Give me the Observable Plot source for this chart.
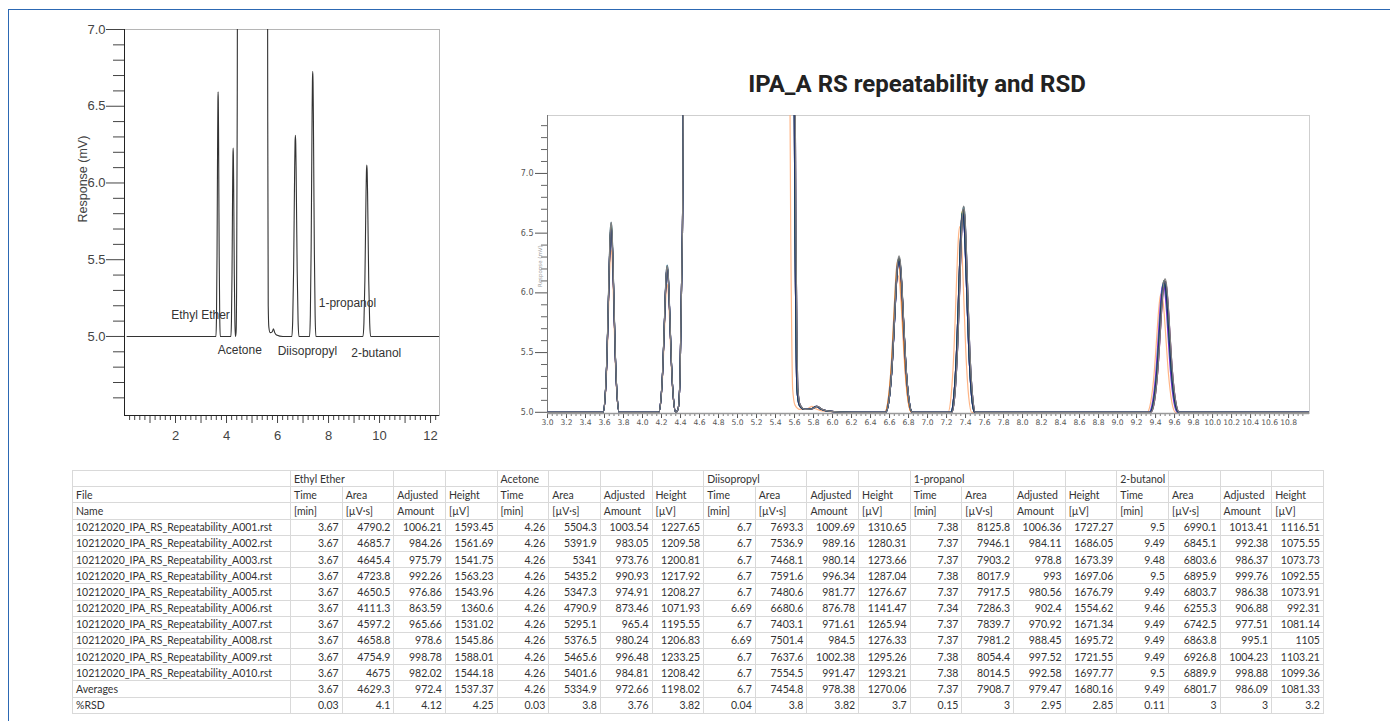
<!DOCTYPE html>
<html><head><meta charset="utf-8">
<script src="https://cdn.jsdelivr.net/npm/d3@7"></script>
<script src="https://cdn.jsdelivr.net/npm/@observablehq/plot@0.6"></script>
<style>
html,body{margin:0;padding:0;background:#fff;}
body{width:1390px;height:721px;overflow:hidden;position:relative;}
#frame{position:absolute;left:8px;top:9px;width:1400px;height:730px;border-left:1.5px solid #2c68b3;border-top:1.5px solid #2c68b3;}
#left{position:absolute;left:0;top:0;}
#right{position:absolute;left:500px;top:100px;}
#title{position:absolute;left:617px;width:600px;top:70px;text-align:center;font-family:Roboto,sans-serif;font-weight:bold;font-size:24px;color:#222;line-height:28px;}
#tbl{position:absolute;left:72px;top:470px;border-collapse:collapse;table-layout:fixed;width:1251px;font-family:Lato,sans-serif;font-size:10.5px;color:#333;}
#tbl tr{height:16.2px;}
#tbl td{border:1px solid #d9d9d9;padding:0 3px;white-space:nowrap;overflow:visible;line-height:14px;}
#tbl td.n{text-align:right;}
</style>
</head><body>
<div id="frame"></div>
<div id="left"></div>
<div id="title">IPA_A RS repeatability and RSD</div>
<div id="right"></div>
<table id="tbl"></table>
<script>
// ---------- data ----------
const fileNames = [
  "10212020_IPA_RS_Repeatability_A001.rst","10212020_IPA_RS_Repeatability_A002.rst",
  "10212020_IPA_RS_Repeatability_A003.rst","10212020_IPA_RS_Repeatability_A004.rst",
  "10212020_IPA_RS_Repeatability_A005.rst","10212020_IPA_RS_Repeatability_A006.rst",
  "10212020_IPA_RS_Repeatability_A007.rst","10212020_IPA_RS_Repeatability_A008.rst",
  "10212020_IPA_RS_Repeatability_A009.rst","10212020_IPA_RS_Repeatability_A010.rst"];
const compounds = ["Ethyl Ether","Acetone","Diisopropyl","1-propanol","2-butanol"];
const headerLine1 = ["Time","Area","Adjusted","Height"];
const headerLine2 = ["[min]","[µV·s]","Amount","[µV]"];

const etherTime   = [3.67,3.67,3.67,3.67,3.67,3.67,3.67,3.67,3.67,3.67];
const etherArea   = [4790.2,4685.7,4645.4,4723.8,4650.5,4111.3,4597.2,4658.8,4754.9,4675];
const etherAdj    = [1006.21,984.26,975.79,992.26,976.86,863.59,965.66,978.6,998.78,982.02];
const etherHeight = [1593.45,1561.69,1541.75,1563.23,1543.96,1360.6,1531.02,1545.86,1588.01,1544.18];
const etherAvg = [3.67,4629.3,972.4,1537.37];
const etherRsd = [0.03,4.1,4.12,4.25];

const acetoneTime   = [4.26,4.26,4.26,4.26,4.26,4.26,4.26,4.26,4.26,4.26];
const acetoneArea   = [5504.3,5391.9,5341,5435.2,5347.3,4790.9,5295.1,5376.5,5465.6,5401.6];
const acetoneAdj    = [1003.54,983.05,973.76,990.93,974.91,873.46,965.4,980.24,996.48,984.81];
const acetoneHeight = [1227.65,1209.58,1200.81,1217.92,1208.27,1071.93,1195.55,1206.83,1233.25,1208.42];
const acetoneAvg = [4.26,5334.9,972.66,1198.02];
const acetoneRsd = [0.03,3.8,3.76,3.82];

const diisoTime   = [6.7,6.7,6.7,6.7,6.7,6.69,6.7,6.69,6.7,6.7];
const diisoArea   = [7693.3,7536.9,7468.1,7591.6,7480.6,6680.6,7403.1,7501.4,7637.6,7554.5];
const diisoAdj    = [1009.69,989.16,980.14,996.34,981.77,876.78,971.61,984.5,1002.38,991.47];
const diisoHeight = [1310.65,1280.31,1273.66,1287.04,1276.67,1141.47,1265.94,1276.33,1295.26,1293.21];
const diisoAvg = [6.7,7454.8,978.38,1270.06];
const diisoRsd = [0.04,3.8,3.82,3.7];

const propTime   = [7.38,7.37,7.37,7.38,7.37,7.34,7.37,7.37,7.38,7.38];
const propArea   = [8125.8,7946.1,7903.2,8017.9,7917.5,7286.3,7839.7,7981.2,8054.4,8014.5];
const propAdj    = [1006.36,984.11,978.8,993,980.56,902.4,970.92,988.45,997.52,992.58];
const propHeight = [1727.27,1686.05,1673.39,1697.06,1676.79,1554.62,1671.34,1695.72,1721.55,1697.77];
const propAvg = [7.37,7908.7,979.47,1680.16];
const propRsd = [0.15,3,2.95,2.85];

const butTime   = [9.5,9.49,9.48,9.5,9.49,9.46,9.49,9.49,9.49,9.5];
const butArea   = [6990.1,6845.1,6803.6,6895.9,6803.7,6255.3,6742.5,6863.8,6926.8,6889.9];
const butAdj    = [1013.41,992.38,986.37,999.76,986.38,906.88,977.51,995.1,1004.23,998.88];
const butHeight = [1116.51,1075.55,1073.73,1092.55,1073.91,992.31,1081.14,1105,1103.21,1099.36];
const butAvg = [9.49,6801.7,986.09,1081.33];
const butRsd = [0.11,3,3,3.2];

// peak shape (base half-width in min, profile relative to apex)
const peakHalfWidth = [0.085,0.09,0.14,0.125,0.15];
const profileOffset = [-1,-0.75,-0.5,-0.35,-0.2,-0.1,0,0.1,0.2,0.35,0.5,0.75,1];
const profileLevel  = [0,0.08,0.33,0.58,0.84,0.96,1,0.96,0.84,0.58,0.33,0.08,0];
// off-scale solvent (IPA) peak and small bump
const solventRiseT = [4.375,4.395,4.42,4.45];
const solventRiseV = [5.03,5.3,6.5,9.5];
const solventFallT = [5.58,5.605,5.625,5.65,5.70,5.78,5.83,5.88,5.95,6.2];
const solventFallV = [9.5,6.5,5.2,5.06,5.025,5.03,5.05,5.025,5.01,5.0];
const solventShift = [0.01,0,0,0.01,0,-0.045,0,0,0.01,0.01];

const runColors = ["#7f7f7f","#2ca02c","#7b2fd0","#e23be2","#2233ee","#ffb585","#1c2d6b","#c8732e","#2e7fa0","#4a4a4a"];
const drawOrder = [5,7,3,2,8,4,1,9,6,0];

const leftYMajor = [5.0,5.5,6.0,6.5,7.0];
const leftXMajor = [2,4,6,8,10,12];
const rightYMajor = [5.0,5.5,6.0,6.5,7.0];
const leftLabelText = ["Ethyl Ether","Acetone","Diisopropyl","1-propanol","2-butanol"];
const leftLabelT = [2.98,4.52,7.17,8.74,9.87];
const leftLabelV = [5.137,4.909,4.902,5.217,4.891];

const compTime = [etherTime,acetoneTime,diisoTime,propTime,butTime];
const compArea = [etherArea,acetoneArea,diisoArea,propArea,butArea];
const compAdj = [etherAdj,acetoneAdj,diisoAdj,propAdj,butAdj];
const compHeight = [etherHeight,acetoneHeight,diisoHeight,propHeight,butHeight];
const compAvg = [etherAvg,acetoneAvg,diisoAvg,propAvg,butAvg];
const compRsd = [etherRsd,acetoneRsd,diisoRsd,propRsd,butRsd];

function trace(r, t0, t1) {
  const pts = [[t0, 5.0]];
  compTime.forEach((times, k) => {
    const t = times[r], h = compHeight[k][r] / 1000, hw = peakHalfWidth[k];
    profileOffset.forEach((o, i) => pts.push([t + o * hw, 5 + h * profileLevel[i]]));
  });
  solventRiseT.forEach((t, i) => pts.push([t, solventRiseV[i]]));
  solventFallT.forEach((t, i) => pts.push([t + solventShift[r], solventFallV[i]]));
  pts.push([t1, 5.0]);
  pts.sort((a, b) => a[0] - b[0]);
  return pts.map(([t, v]) => ({run: fileNames[r], t, v}));
}

// ---------- left chromatogram ----------
const leftDomX = [0, 12.35], leftDomY = [4.485, 7.0];
const leftPlot = Plot.plot({
  width: 460, height: 450,
  marginLeft: 124, marginRight: 21, marginTop: 29, marginBottom: 35,
  x: {domain: leftDomX}, y: {domain: leftDomY},
  style: {fontFamily: "Liberation Sans, Arial, sans-serif", fontSize: "13px", background: "transparent"},
  marks: [
    Plot.frame({stroke: "#b5b5b5"}),
    Plot.axisY(leftYMajor, {tickSize: 18, tickPadding: 1, tickFormat: d => d.toFixed(1), color: "#444", label: null}),
    Plot.axisY(d3.range(4.6, 7.0, 0.1).filter(v => Math.abs(v * 2 - Math.round(v * 2)) > 0.01), {tickSize: 11, tickFormat: () => "", color: "#444", label: null}),
    Plot.axisX(leftXMajor, {tickSize: 8, tickPadding: 7, color: "#444", label: null}),
    Plot.axisX([1,3,5,7,9,11], {tickSize: 8, tickFormat: () => "", color: "#444", label: null}),
    Plot.axisX(d3.range(0.2, 12.35, 0.2).filter(v => Math.abs(v - Math.round(v)) > 0.01), {tickSize: 5, tickFormat: () => "", color: "#444", label: null}),
    Plot.ruleX([leftDomX[0]], {stroke: "#222"}),
    Plot.ruleY([leftDomY[0]], {stroke: "#222"}),
    Plot.text(["Response (mV)"], {frameAnchor: "left", dx: -42, rotate: -90, fontSize: 12.5, fill: "#444"}),
    Plot.line(trace(0, 0.1, 12.35), {x: "t", y: "v", stroke: "#333", strokeWidth: 1.1, curve: "monotone-x", clip: true}),
    Plot.text(leftLabelText, {x: (d, i) => leftLabelT[i], y: (d, i) => leftLabelV[i], text: d => d, fontSize: 12, fill: "#333"})
  ]
});
document.getElementById("left").appendChild(leftPlot);

// ---------- right overlay ----------
const rightDomX = [3.0, 11.02], rightDomY = [4.99, 7.485];
const rightMarks = [
  Plot.frame({stroke: "#cfcfcf"}),
  Plot.axisY(rightYMajor, {tickSize: 12, tickPadding: 2, tickFormat: d => d.toFixed(1), color: "#555", fontSize: 8, label: null}),
  Plot.axisY(d3.range(5.1, 7.45, 0.1).filter(v => Math.abs(v * 2 - Math.round(v * 2)) > 0.01), {tickSize: 6, tickFormat: () => "", color: "#666", label: null}),
  Plot.axisX(d3.range(30, 110, 2).map(d => d / 10), {tickSize: 5, tickPadding: 1, tickFormat: d => d.toFixed(1), color: "#555", fontSize: 7.6, label: null}),
  Plot.axisX(d3.range(3.05, 11.0, 0.05).filter(v => Math.abs(v * 5 - Math.round(v * 5)) > 0.01), {tickSize: 3, tickFormat: () => "", color: "#777", label: null}),
  Plot.ruleX([rightDomX[0]], {stroke: "#777"}),
  Plot.text(["Response (mV)"], {frameAnchor: "left", dx: -7, dy: 0, y: 6.05, rotate: -90, fontSize: 5.5, fill: "#999"})
];
drawOrder.forEach(r => {
  rightMarks.push(Plot.line(trace(r, 3.0, 11.02), {x: "t", y: "v", stroke: runColors[r], strokeWidth: 1.2, curve: "monotone-x", clip: true}));
});
rightMarks.push(Plot.ruleY([rightDomY[0]], {stroke: "#9a9a9a", strokeWidth: 1.5}));
const rightPlot = Plot.plot({
  width: 820, height: 340,
  marginLeft: 47, marginRight: 11, marginTop: 15, marginBottom: 27,
  x: {domain: rightDomX}, y: {domain: rightDomY},
  style: {fontFamily: "DejaVu Sans, sans-serif", fontSize: "8px", background: "transparent"},
  marks: rightMarks
});
document.getElementById("right").appendChild(rightPlot);

// ---------- table ----------
const groupSpan = [2,1,2,2,1];
const tbl = document.getElementById("tbl");
let html = "<colgroup><col style='width:218px'>" + "<col style='width:51.65px'>".repeat(20) + "</colgroup>";
let r0 = "<tr><td></td>";
compounds.forEach((c, k) => {
  r0 += `<td colspan="${groupSpan[k]}">${c}</td>` + "<td></td>".repeat(4 - groupSpan[k]);
});
html += r0 + "</tr>";
html += "<tr><td>File</td>" + compounds.map(() => headerLine1.map(h => `<td>${h}</td>`).join("")).join("") + "</tr>";
html += "<tr><td>Name</td>" + compounds.map(() => headerLine2.map(h => `<td>${h}</td>`).join("")).join("") + "</tr>";
fileNames.forEach((f, r) => {
  html += `<tr><td>${f}</td>` + compounds.map((c, k) =>
    [compTime[k][r], compArea[k][r], compAdj[k][r], compHeight[k][r]].map(v => `<td class="n">${v}</td>`).join("")).join("") + "</tr>";
});
html += "<tr><td>Averages</td>" + compAvg.map(a => a.map(v => `<td class="n">${v}</td>`).join("")).join("") + "</tr>";
html += "<tr><td>%RSD</td>" + compRsd.map(a => a.map(v => `<td class="n">${v}</td>`).join("")).join("") + "</tr>";
tbl.innerHTML = html;
</script>
</body></html>
